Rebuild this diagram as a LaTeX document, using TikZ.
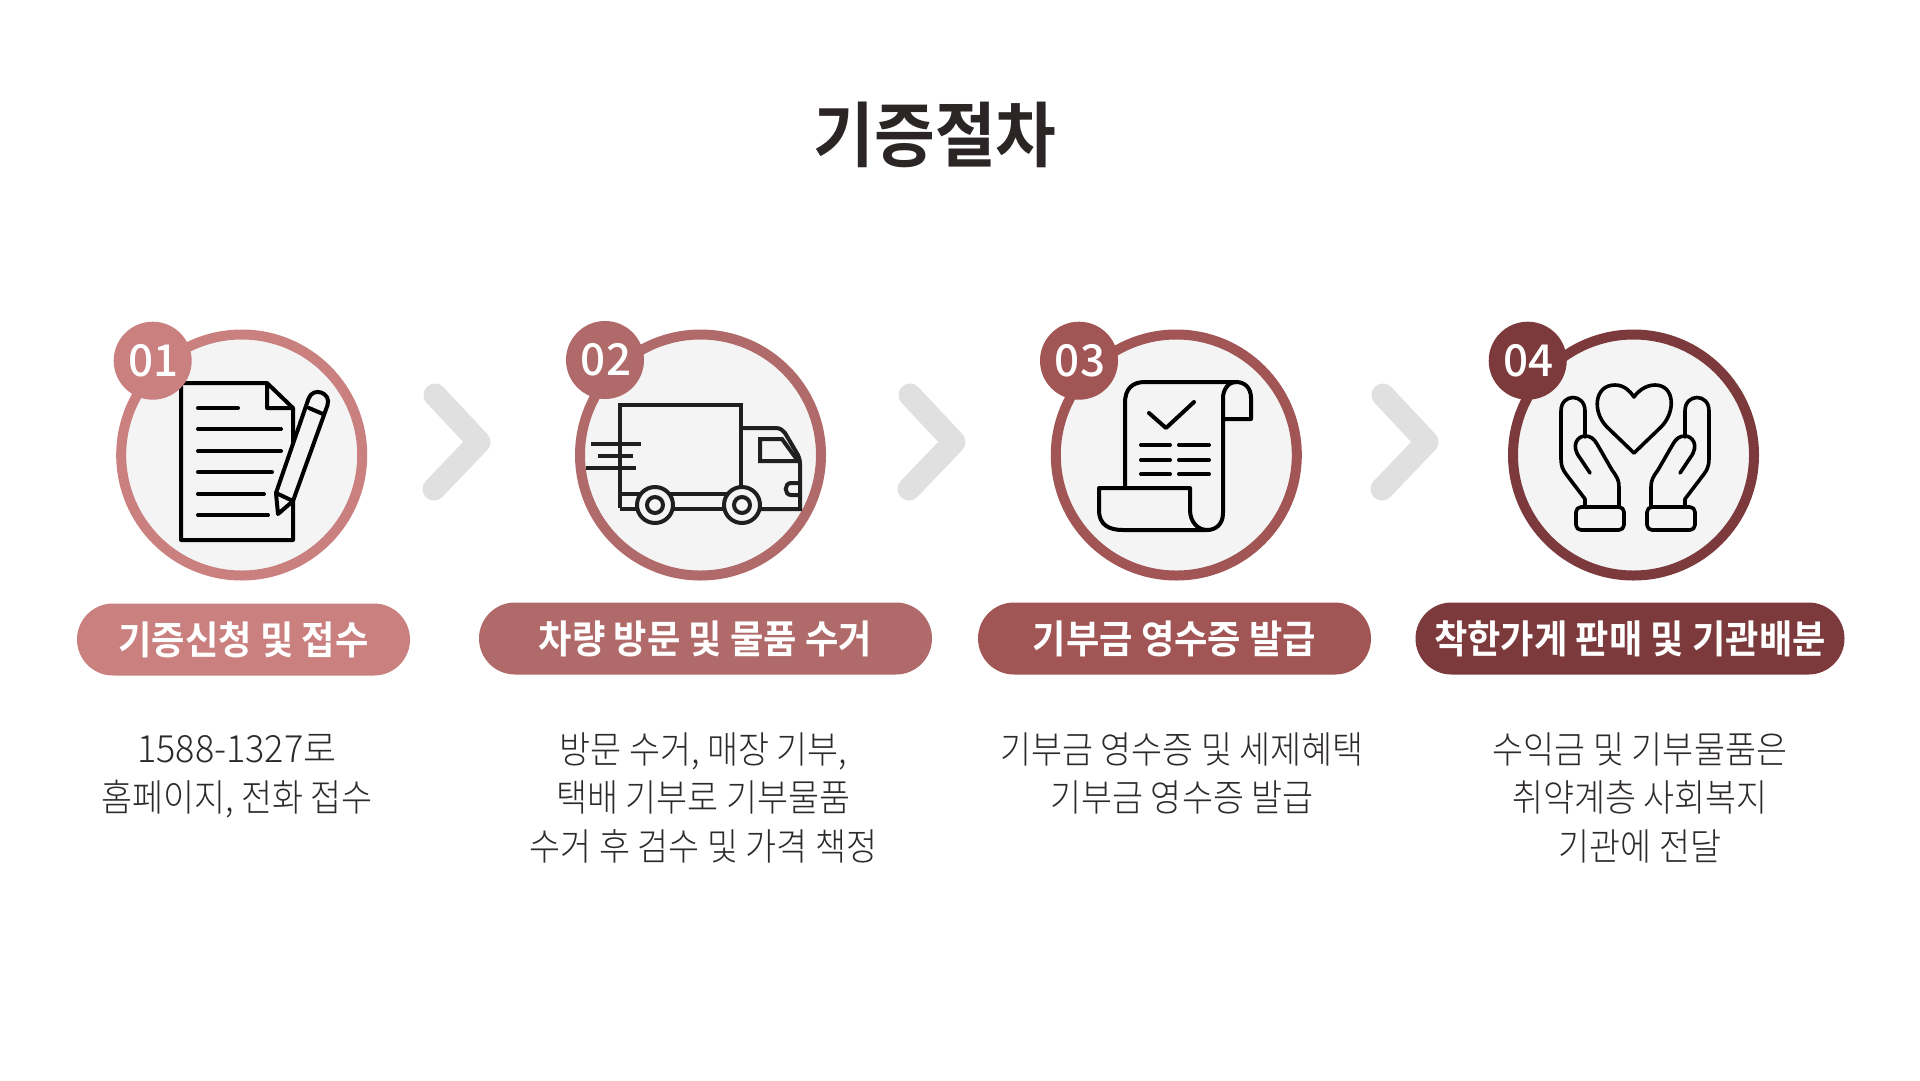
\documentclass[tikz,border=0pt]{standalone}
\usepackage{fontspec}
\setmainfont{Noto Sans CJK KR}
\newfontfamily\numfont{Noto Sans CJK KR Medium}
\newfontfamily\boldkr{Noto Sans CJK KR Bold}[FakeStretch=0.93]
\newfontfamily\lightkr{Noto Sans CJK KR Light}[FakeStretch=0.90]
\newfontfamily\lightwide{Noto Sans CJK KR Light}[FakeStretch=0.96]
\definecolor{cA}{HTML}{CB8080}
\definecolor{cB}{HTML}{B16A6A}
\definecolor{cC}{HTML}{A25555}
\definecolor{cD}{HTML}{7D3A3C}
\definecolor{disc}{HTML}{F4F4F4}
\definecolor{chev}{HTML}{E0E0E0}
\definecolor{inktxt}{HTML}{2B2525}
\definecolor{bodytxt}{HTML}{2E2A2A}
\newcommand{\badgetext}[1]{\hspace{2pt}\raisebox{-1pt}{#1}}
\tikzset{
 ring/.style={circle,draw=#1,line width=10pt,fill=disc,minimum size=241pt,inner sep=0pt},
 badge/.style={circle,fill=#1,minimum size=78pt,inner sep=0pt,text=white,font=\fontsize{44}{44}\selectfont\numfont},
 pill/.style={rounded corners=36pt,fill=#1,inner sep=0pt,text=white,font=\fontsize{39}{39}\selectfont\boldkr,minimum height=72pt},
 body/.style={align=center,text=bodytxt,font=\fontsize{37.5}{48.5}\selectfont\lightkr},
 ico/.style={line width=4pt,draw=black,line cap=round,line join=round},
 chevline/.style={draw=chev,line width=23pt,line cap=round,line join=round}
}
\begin{document}
\begin{tikzpicture}[x=1pt,y=-1pt]
\useasboundingbox (0,0) rectangle (1920,1080);
\fill[white] (0,0) rectangle (1920,1080);
\node (title) at (935,134.5) {\fontsize{71}{71}\selectfont\boldkr\textcolor{inktxt}{기증절차}};
\coordinate (a1) at (435,395);\coordinate (a2) at (479,442);\coordinate (a3) at (434,489);
\draw[chevline] (a1) -- (a2) -- (a3);
\coordinate (b1) at (910,395);\coordinate (b2) at (954,442);\coordinate (b3) at (909,489);
\draw[chevline] (b1) -- (b2) -- (b3);
\coordinate (c1) at (1383,395);\coordinate (c2) at (1427,442);\coordinate (c3) at (1382,489);
\draw[chevline] (c1) -- (c2) -- (c3);
\node[ring=cA] (r1) at (241.7,455) {};
\node[ring=cB] (r2) at (700.5,455) {};
\node[ring=cC] (r3) at (1176.3,455) {};
\node[ring=cD] (r4) at (1633.5,455) {};
% icon 1 document
\begin{scope}[ico]
\draw (267,383) -- (181,383) -- (181,540) -- (293,540) -- (293,408) -- (267,383) -- (267,408) -- (293,408);
\foreach \yy/\xx in {408/238,429/281,451/281,472/272,494/264,515/268}{\draw (198,\yy) -- (\xx,\yy);}
\draw[fill=disc] (276,493) -- (308.6,398.5) .. controls (313.2,386) and (332,393) .. (327.4,405.5) -- (293,501) -- (278,514) -- cycle;
\draw (276,493) -- (293,501);
\draw (309,408) -- (323,414);
\end{scope}
% icon 2 truck
\begin{scope}[line width=4pt,draw=black!88,line join=miter]
\draw (620,508) -- (620,405) -- (741,405) -- (741,490);
\draw (741,428) -- (776,428) .. controls (781,428) and (783,431) .. (785,433) -- (798,455) .. controls (799,458) and (800,460) .. (800,464) -- (800,509) -- (760,509);
\draw (760,439) -- (782,439) -- (798,461) -- (760,461) -- cycle;
\draw (800,483) -- (791,483) .. controls (784,483) and (784,495) .. (791,495) -- (800,495);
\draw (620,494) -- (741,494) (620,509) -- (740,509);
\draw (591,444) -- (641,444) (598,456) -- (633,456) (586,468) -- (636,468);
\draw[fill=disc] (655,505) circle[radius=18];
\draw (655,505) circle[radius=8];
\draw[fill=disc] (742,505) circle[radius=18];
\draw (742,505) circle[radius=8];
\end{scope}
% icon 3 receipt
\begin{scope}[ico]
\draw (1125,488) -- (1125,403) .. controls (1125,388) and (1133,382) .. (1145,382) -- (1236,382);
\draw (1223,419) -- (1251,419) -- (1251,398) .. controls (1251,388) and (1245,382) .. (1236,382) .. controls (1228,382) and (1223,390) .. (1223,398) -- (1223,513) .. controls (1223,525) and (1215,530) .. (1207,530) -- (1123,530) .. controls (1109,530) and (1099,525) .. (1099,510) -- (1099,488) -- (1190,488) -- (1190,510) .. controls (1190,522) and (1198,530) .. (1207,530);
\draw (1149,413) -- (1166,428) -- (1194,402);
\foreach \yy in {445,460,474}{\draw (1141,\yy) -- (1170,\yy) (1179,\yy) -- (1209,\yy);}
\end{scope}
% icon 4 hands
\begin{scope}[ico,line width=3.6pt]
\draw (1634,453) -- (1607,427) .. controls (1592,412) and (1594,385) .. (1615,385) .. controls (1624,385) and (1630,391) .. (1634,397) .. controls (1638,391) and (1646,385) .. (1655,385) .. controls (1675,385) and (1676,412) .. (1661,427) -- cycle;
\draw (1585,437) -- (1585,411) .. controls (1585,393) and (1561,393) .. (1561,411) -- (1561,459) .. controls (1561,466) and (1563,470) .. (1566,474) -- (1585,499) -- (1585,507);
\draw (1590,473) -- (1580,458) .. controls (1570,445) and (1578,436) .. (1585,436) .. controls (1591,436) and (1594,439) .. (1597,444) -- (1612,470) .. controls (1617,477) and (1619,480) .. (1619,487) -- (1619,507);
\draw[rounded corners=5pt] (1576,507) rectangle (1624,530);
\draw (1685,437) -- (1685,411) .. controls (1685,393) and (1709,393) .. (1709,411) -- (1709,459) .. controls (1709,466) and (1707,470) .. (1704,474) -- (1685,499) -- (1685,507);
\draw (1680,473) -- (1690,458) .. controls (1700,445) and (1692,436) .. (1685,436) .. controls (1679,436) and (1676,439) .. (1673,444) -- (1658,470) .. controls (1653,477) and (1651,480) .. (1651,487) -- (1651,507);
\draw[rounded corners=5pt] (1647,507) rectangle (1695,530);
\end{scope}
\node[badge=cA] (b01) at (152.7,360.7) {\badgetext{01}};
\node[badge=cB] (b02) at (605,360) {\badgetext{02}};
\node[badge=cC] (b03) at (1079,360.7) {\badgetext{03}};
\node[badge=cD] (b04) at (1527.7,360.7) {\badgetext{04}};
\node[pill=cA,minimum width=333pt] (p1) at (243.5,639.5) {기증신청 및 접수};
\node[pill=cB,minimum width=453pt] (p2) at (705.5,638.5) {차량 방문 및 물품 수거};
\node[pill=cC,minimum width=393pt] (p3) at (1174.5,638.5) {기부금 영수증 발급};
\node[pill=cD,minimum width=429pt] (p4) at (1630,638.5) {착한가게 판매 및 기관배분};
\node[body,anchor=north] (t1) at (237,731) {{\lightwide 1588-1327로}\\홈페이지, 전화 접수};
\node[body,anchor=north] (t2) at (703.5,729) {방문 수거, 매장 기부,\\택배 기부로 기부물품\\수거 후 검수 및 가격 책정};
\node[body,anchor=north] (t3) at (1182,729) {기부금 영수증 및 세제혜택\\기부금 영수증 발급};
\node[body,anchor=north] (t4) at (1640,729) {수익금 및 기부물품은\\취약계층 사회복지\\기관에 전달};
\end{tikzpicture}
\end{document}
